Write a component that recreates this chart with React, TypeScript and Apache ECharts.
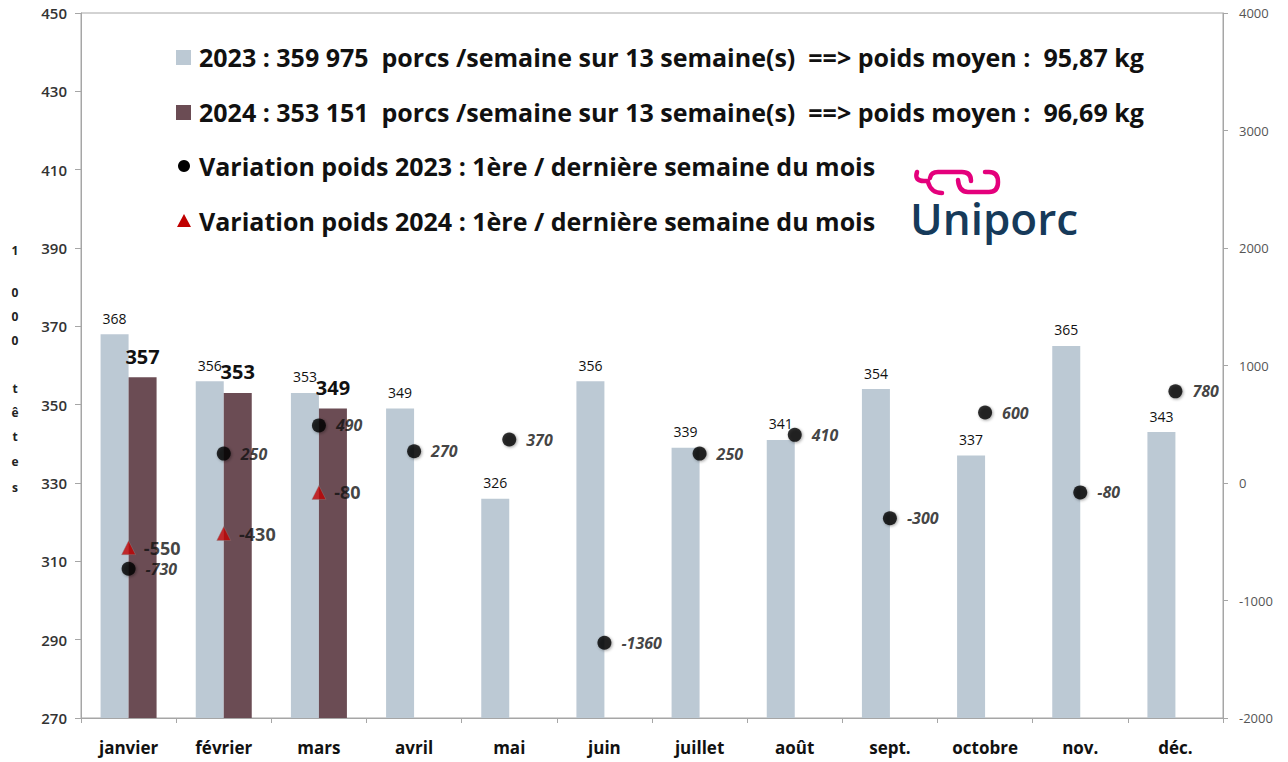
import React, { useEffect, useRef } from "react";
import * as echarts from "echarts";

const months = ["janvier", "février", "mars", "avril", "mai", "juin", "juillet", "août", "sept.", "octobre", "nov.", "déc."];
const heads2023 = [368, 356, 353, 349, 326, 356, 339, 341, 354, 337, 365, 343];
const heads2024: (number | null)[] = [357, 353, 349, null, null, null, null, null, null, null, null, null];
const weightVar2023 = [-730, 250, 490, 270, 370, -1360, 250, 410, -300, 600, -80, 780];
const weightVar2024: (number | null)[] = [-550, -430, -80, null, null, null, null, null, null, null, null, null];

const legendLines = [
  "2023 : 359 975  porcs /semaine sur 13 semaine(s)  ==> poids moyen :  95,87 kg",
  "2024 : 353 151  porcs /semaine sur 13 semaine(s)  ==> poids moyen :  96,69 kg",
  "Variation poids 2023 : 1ère / dernière semaine du mois",
  "Variation poids 2024 : 1ère / dernière semaine du mois",
];
const yNameChars = ["1", "0", "0", "0", "t", "ê", "t", "e", "s"];
const yNameYs = [250, 292, 316, 340, 388, 412, 436, 461, 487];

const C2023 = "#BCC9D4";
const C2024 = "#6B4C54";
const FONT = "'Open Sans', 'Noto Sans', sans-serif";

const logoD =
  "M917 172 Q914 181 924 181 L928 181 M928 182 Q931 193 942 193 M930 178 Q931 172 938 172 L962 172 Q971 172 971 181 M958 180 Q959 192 968 192 L989 192 Q998 192 998 182 Q998 172 989 172 L985 172";
echarts.graphic.registerShape("logo", echarts.graphic.extendPath(logoD, {}));

export default function App() {
  const ref = useRef<HTMLDivElement>(null);
  useEffect(() => {
    document.body.style.margin = "0";
    const chart = echarts.init(ref.current!, null, { renderer: "svg" });
    const legendMarkers: any[] = [
      { type: "rect", shape: { x: 176, y: 50, width: 15, height: 15 }, style: { fill: C2023 } },
      { type: "rect", shape: { x: 176, y: 105, width: 15, height: 15 }, style: { fill: C2024 } },
      { type: "circle", shape: { cx: 184, cy: 166, r: 6 }, style: { fill: "#000" } },
      { type: "polygon", shape: { points: [[184, 214], [177, 227], [191, 227]] }, style: { fill: "#C00000" } },
    ];
    const legendYs = [57, 112, 166, 221];
    const legendTexts = legendLines.map((t, i) => ({
      type: "text",
      x: 199,
      y: legendYs[i],
      style: { text: t, fill: "#111", font: `bold 25px ${FONT}`, textVerticalAlign: "middle" },
    }));
    const yName = yNameChars.map((c, i) => ({
      type: "text",
      x: 15,
      y: yNameYs[i],
      style: { text: c, fill: "#222", font: `bold 12px ${FONT}`, textAlign: "center", textVerticalAlign: "middle" },
    }));
    chart.setOption({
      animation: false,
      backgroundColor: "#fff",
      grid: { left: 81, right: 65, top: 13, bottom: 44, show: true, borderColor: "#A6A6A6", borderWidth: 1 },
      xAxis: {
        type: "category",
        data: months,
        axisLine: { onZero: false, lineStyle: { color: "#A6A6A6" } },
        axisTick: { show: true, length: 5, lineStyle: { color: "#A6A6A6" } },
        axisLabel: { color: "#111", fontWeight: "bold", fontSize: 17, fontFamily: FONT, margin: 21 },
      },
      yAxis: [
        {
          type: "value",
          min: 270,
          max: 450,
          interval: 20,
          splitLine: { show: false },
          axisLine: { show: true, lineStyle: { color: "#A6A6A6" } },
          axisTick: { show: true, length: 6, lineStyle: { color: "#A6A6A6" } },
          axisLabel: { color: "#333", fontSize: 15, fontWeight: 600, fontFamily: FONT, margin: 14 },
        },
        {
          type: "value",
          min: -2000,
          max: 4000,
          interval: 1000,
          position: "right",
          splitLine: { show: false },
          axisLine: { show: true, lineStyle: { color: "#A6A6A6" } },
          axisTick: { show: true, length: 5, lineStyle: { color: "#A6A6A6" } },
          axisLabel: { color: "#555", fontSize: 13, fontFamily: FONT, margin: 16, formatter: (v: number) => String(v) },
        },
      ],
      series: [
        {
          type: "bar",
          name: "2023",
          data: heads2023,
          barWidth: 28,
          barGap: "0%",
          itemStyle: { color: C2023 },
          label: { show: true, position: "top", distance: 9, color: "#111", fontSize: 14, fontFamily: FONT },
        },
        {
          type: "bar",
          name: "2024",
          data: heads2024,
          barWidth: 28,
          barGap: "0%",
          itemStyle: { color: C2024 },
          label: { show: true, position: "top", distance: 11, color: "#111", fontSize: 20, fontWeight: "bold", fontFamily: FONT },
        },
        {
          type: "scatter",
          name: "var2023",
          yAxisIndex: 1,
          data: weightVar2023,
          symbol: "circle",
          symbolSize: 14,
          itemStyle: { color: "#000", shadowBlur: 3, shadowColor: "rgba(0,0,0,0.45)", shadowOffsetX: 1, shadowOffsetY: 1 },
          label: { show: true, position: "right", distance: 10, color: "#111", fontSize: 16, fontWeight: "bold", fontStyle: "italic", fontFamily: FONT },
          z: 5,
        },
        {
          type: "scatter",
          name: "var2024",
          yAxisIndex: 1,
          data: weightVar2024,
          symbol: "triangle",
          symbolSize: 14,
          itemStyle: { color: "#C00000", borderColor: "#888", borderWidth: 0.5 },
          label: { show: true, position: "right", distance: 8, color: "#111", fontSize: 18, fontWeight: "bold", fontFamily: FONT },
          z: 6,
        },
      ],
      graphic: [
        ...legendMarkers,
        ...legendTexts,
        ...yName,
        { type: "logo", x: 0, y: 0, style: { fill: "none", stroke: "#E4007C", lineWidth: 4.5, lineCap: "round" } },
        {
          type: "text",
          x: 910,
          y: 218,
          style: { text: "Uniporc", fill: "#163A5A", font: `600 44px ${FONT}`, textVerticalAlign: "middle" },
        },
      ],
    });
    return () => chart.dispose();
  }, []);
  return <div ref={ref} style={{ width: 1288, height: 762 }} />;
}
